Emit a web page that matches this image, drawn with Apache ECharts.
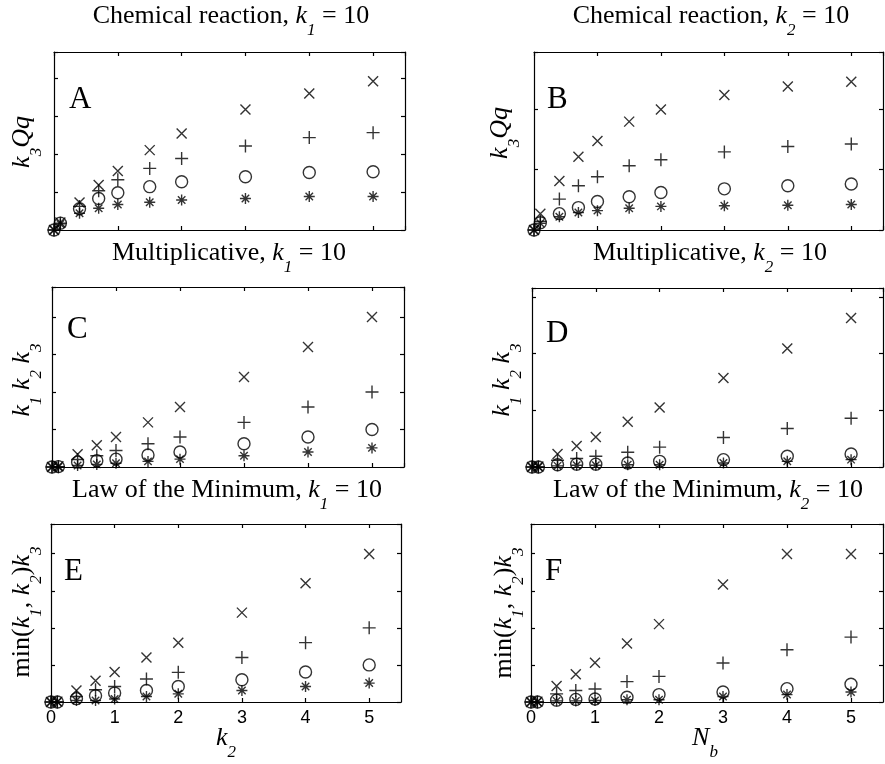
<!DOCTYPE html>
<html>
<head>
<meta charset="utf-8">
<title>Chemical reaction / Multiplicative / Law of the Minimum</title>
<script src="https://cdn.jsdelivr.net/npm/echarts@6/dist/echarts.min.js"></script>
<style>
    html, body { margin: 0; padding: 0; background: #fff; }
    #main { width: 885px; height: 764px; }
</style>
</head>
<body>
<div id="main"></div>
<script>
// x positions shared by all six panels
var xVals = [0, 0.1, 0.4, 0.7, 1, 1.5, 2, 3, 4, 5];
var xTickLabels = ['0', '1', '2', '3', '4', '5'];

// A: Chemical reaction, k1 = 10
var aCross  = [0, 0.20, 0.72, 1.18, 1.55, 2.10, 2.54, 3.17, 3.59, 3.91];
var aPlus   = [0, 0.18, 0.62, 1.03, 1.32, 1.62, 1.88, 2.21, 2.43, 2.56];
var aCircle = [0, 0.18, 0.56, 0.83, 0.98, 1.14, 1.27, 1.40, 1.51, 1.53];
var aStar   = [0, 0.16, 0.44, 0.57, 0.67, 0.73, 0.79, 0.83, 0.88, 0.88];
// B: Chemical reaction, k2 = 10
var bCross  = [0, 0.27, 0.81, 1.21, 1.47, 1.79, 1.99, 2.23, 2.37, 2.45];
var bPlus   = [0, 0.14, 0.51, 0.73, 0.88, 1.06, 1.16, 1.29, 1.38, 1.42];
var bCircle = [0, 0.12, 0.27, 0.37, 0.47, 0.55, 0.62, 0.68, 0.73, 0.76];
var bStar   = [0, 0.11, 0.22, 0.29, 0.32, 0.36, 0.39, 0.40, 0.41, 0.42];
// C: Multiplicative, k1 = 10
var cCross  = [0, 0.02, 0.34, 0.58, 0.80, 1.19, 1.60, 2.40, 3.20, 4.00];
var cPlus   = [0, 0.01, 0.20, 0.30, 0.44, 0.62, 0.80, 1.19, 1.60, 2.00];
var cCircle = [0, 0.01, 0.13, 0.17, 0.21, 0.32, 0.40, 0.62, 0.80, 1.00];
var cStar   = [0, 0.00, 0.04, 0.07, 0.10, 0.15, 0.21, 0.30, 0.40, 0.51];
// D: Multiplicative, k2 = 10
var dCross  = [0, 0.01, 0.23, 0.37, 0.53, 0.80, 1.05, 1.57, 2.09, 2.63];
var dPlus   = [0, 0.00, 0.12, 0.15, 0.19, 0.26, 0.35, 0.52, 0.68, 0.86];
var dCircle = [0, 0.00, 0.04, 0.05, 0.05, 0.07, 0.10, 0.13, 0.19, 0.23];
var dStar   = [0, 0.00, 0.02, 0.03, 0.03, 0.04, 0.04, 0.07, 0.10, 0.13];
// E: Law of the Minimum, k1 = 10
var eCross  = [0, 0.01, 0.31, 0.57, 0.81, 1.20, 1.60, 2.41, 3.20, 3.99];
var ePlus   = [0, 0.00, 0.15, 0.33, 0.42, 0.62, 0.80, 1.20, 1.60, 2.00];
var eCircle = [0, 0.00, 0.09, 0.17, 0.24, 0.31, 0.42, 0.60, 0.81, 1.00];
var eStar   = [0, 0.00, 0.04, 0.04, 0.08, 0.15, 0.22, 0.31, 0.42, 0.51];
// F: Law of the Minimum, k2 = 10
var fCross  = [0, 0.01, 0.43, 0.75, 1.06, 1.58, 2.10, 3.17, 3.99, 3.99];
var fPlus   = [0, 0.00, 0.22, 0.31, 0.35, 0.55, 0.69, 1.05, 1.41, 1.75];
var fCircle = [0, 0.00, 0.05, 0.07, 0.08, 0.13, 0.20, 0.27, 0.36, 0.48];
var fStar   = [0, 0.00, 0.03, 0.03, 0.04, 0.06, 0.06, 0.15, 0.20, 0.27];

// marker shapes, same order as the series in each panel
var markers = [
    {symbol: 'path://M0,0L10,10M10,0L0,10', size: 10},
    {symbol: 'path://M5,0L5,10M0,5L10,5', size: 13},
    {symbol: 'path://M10,5A5,5 0 1 1 0,5A5,5 0 1 1 10,5Z', size: 12},
    {symbol: 'path://M5,0L5,10M0,5L10,5M1.6,1.6L8.4,8.4M8.4,1.6L1.6,8.4', size: 11}
];

var serif = 'Liberation Serif';
var rich = {
    n: {fontFamily: serif, fontSize: 26, lineHeight: 26, color: '#000'},
    i: {fontFamily: serif, fontSize: 26, lineHeight: 26, fontStyle: 'italic', color: '#000'},
    s: {fontFamily: serif, fontSize: 17, lineHeight: 17, fontStyle: 'italic', color: '#000', padding: [30, 0, 0, 0]}
};

// layout of each panel
var panels = [
    {box: [54, 52, 351, 178], yMax: 4.68, data: [aCross, aPlus, aCircle, aStar], letter: 'A', lp: [69, 100],
     title: '{n|Chemical reaction, }{i|k}{s|1}{n| = 10}', tp: [231, 16],
     ylab: '{i|k}{s|3}{i|Qq}', yp: [22, 142]},
    {box: [534, 52, 349, 178], yMax: 2.94, data: [bCross, bPlus, bCircle, bStar], letter: 'B', lp: [547, 100],
     title: '{n|Chemical reaction, }{i|k}{s|2}{n| = 10}', tp: [711, 16],
     ylab: '{i|k}{s|3}{i|Qq}', yp: [500, 133]},
    {box: [52, 287, 352, 180], yMax: 4.8, data: [cCross, cPlus, cCircle, cStar], letter: 'C', lp: [67, 330],
     title: '{n|Multiplicative, }{i|k}{s|1}{n| = 10}', tp: [229, 253],
     ylab: '{i|k}{s|1}{i| k}{s|2}{i| k}{s|3}', yp: [22, 380]},
    {box: [532, 288, 351, 179], yMax: 3.16, data: [dCross, dPlus, dCircle, dStar], letter: 'D', lp: [546, 334],
     title: '{n|Multiplicative, }{i|k}{s|2}{n| = 10}', tp: [710, 253],
     ylab: '{i|k}{s|1}{i| k}{s|2}{i| k}{s|3}', yp: [502, 380]},
    {box: [51, 524, 350, 178], yMax: 4.8, data: [eCross, ePlus, eCircle, eStar], letter: 'E', lp: [64, 572],
     title: '{n|Law of the Minimum, }{i|k}{s|1}{n| = 10}', tp: [227, 490],
     ylab: '{n|min(}{i|k}{s|1}{n|, }{i|k}{s|2}{n|)}{i|k}{s|3}', yp: [22, 612],
     xlab: '{i|k}{s|2}', xp: [226, 738]},
    {box: [531, 524, 352, 178], yMax: 4.8, data: [fCross, fPlus, fCircle, fStar], letter: 'F', lp: [545, 572],
     title: '{n|Law of the Minimum, }{i|k}{s|2}{n| = 10}', tp: [708, 490],
     ylab: '{n|min(}{i|k}{s|1}{n|, }{i|k}{s|2}{n|)}{i|k}{s|3}', yp: [504, 613],
     xlab: '{i|N}{s|b}', xp: [705, 738]}
];

var lineStyle = {color: '#000', width: 1.2};
var grids = [], xAxes = [], yAxes = [], series = [], graphics = [];

panels.forEach(function (p, i) {
    grids.push({left: p.box[0], top: p.box[1], width: p.box[2], height: p.box[3], containLabel: false});
    var bottomRow = !!p.xlab;
    ['bottom', 'top'].forEach(function (pos) {
        xAxes.push({
            gridIndex: i, type: 'value', position: pos, min: 0, max: 5.5, interval: 1,
            axisLine: {show: true, onZero: false, lineStyle: lineStyle},
            axisTick: {show: true, inside: true, length: 4, lineStyle: lineStyle},
            axisLabel: {
                show: bottomRow && pos === 'bottom', showMaxLabel: false,
                color: '#000', fontFamily: 'Liberation Sans', fontSize: 18, margin: 7,
                formatter: function (v) { return xTickLabels[v] !== undefined ? xTickLabels[v] : ''; }
            },
            splitLine: {show: false}
        });
    });
    ['left', 'right'].forEach(function (pos) {
        yAxes.push({
            gridIndex: i, type: 'value', position: pos, min: 0, max: p.yMax, interval: 1,
            axisLine: {show: true, onZero: false, lineStyle: lineStyle},
            axisTick: {show: true, inside: true, length: 4, lineStyle: lineStyle},
            axisLabel: {show: false},
            splitLine: {show: false}
        });
    });
    p.data.forEach(function (vals, k) {
        series.push({
            type: 'scatter',
            xAxisIndex: 2 * i,
            yAxisIndex: 2 * i,
            symbol: markers[k].symbol,
            symbolSize: markers[k].size,
            clip: false,
            silent: true,
            itemStyle: {color: 'rgba(0,0,0,0)', borderColor: '#000', borderWidth: 1.4},
            emphasis: {disabled: true},
            data: xVals.map(function (x, j) { return [x, vals[j]]; })
        });
    });
    // panel title
    graphics.push({type: 'text', x: p.tp[0], y: p.tp[1], silent: true,
        style: {text: p.title, rich: rich, align: 'center', verticalAlign: 'middle'}});
    // panel letter
    graphics.push({type: 'text', x: p.lp[0], y: p.lp[1], silent: true,
        style: {text: p.letter, fontFamily: serif, fontSize: 31, fill: '#000', align: 'left', verticalAlign: 'middle'}});
    // y axis name, rotated
    graphics.push({type: 'text', x: p.yp[0], y: p.yp[1], rotation: Math.PI / 2, silent: true,
        style: {text: p.ylab, rich: rich, align: 'center', verticalAlign: 'middle'}});
    if (p.xlab) {
        graphics.push({type: 'text', x: p.xp[0], y: p.xp[1], silent: true,
            style: {text: p.xlab, rich: rich, align: 'center', verticalAlign: 'middle'}});
    }
});

var chart = echarts.init(document.getElementById('main'), null, {renderer: 'canvas'});
chart.setOption({
    animation: false,
    backgroundColor: '#fff',
    grid: grids,
    xAxis: xAxes,
    yAxis: yAxes,
    series: series,
    graphic: graphics
});
</script>
</body>
</html>
